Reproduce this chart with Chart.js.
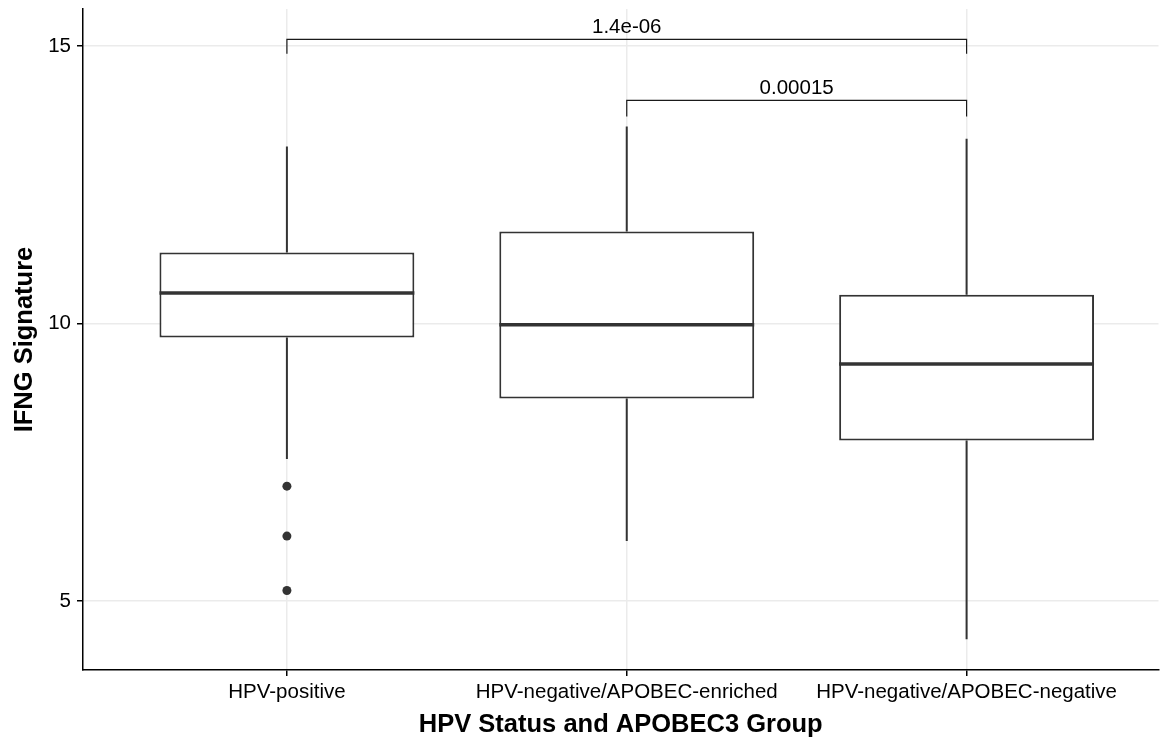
<!DOCTYPE html>
<html>
<head>
<meta charset="utf-8">
<script src="https://cdn.jsdelivr.net/npm/chart.js@4.4.1/dist/chart.umd.min.js"></script>
<style>
  html, body { margin: 0; padding: 0; background: #ffffff; }
  #wrap { width: 1163px; height: 738px; }
</style>
</head>
<body>
<div id="wrap"><canvas id="c" width="1163" height="738"></canvas></div>
<script>
// ---- data ----
const categories = ['HPV-positive', 'HPV-negative/APOBEC-enriched', 'HPV-negative/APOBEC-negative'];
const whiskerLow  = [7.56, 6.08, 4.31];
const q1          = [9.75, 8.65, 7.89];
const median      = [10.55, 9.98, 9.27];
const q3          = [11.28, 11.66, 10.52];
const whiskerHigh = [13.19, 13.55, 13.33];
const outlierGroup  = [1, 1, 1];
const outlierValues = [7.07, 6.17, 5.19];
const yTicks = [5, 10, 15];
const compFrom   = [1, 2];
const compTo     = [3, 3];
const compLabels = ['1.4e-06', '0.00015'];
const compY      = [15.12, 14.02];
const compTipY   = [14.86, 13.73];

// ---- styling ----
const BOX_HALF = 0.375;
const LINE = '#333333';
const FONT = '"Liberation Sans", Arial, sans-serif';

const datasets = [];
// whiskers
categories.forEach((c, i) => {
  const x = i + 1;
  datasets.push({ type: 'line', order: 3, data: [{x: x, y: q3[i]}, {x: x, y: whiskerHigh[i]}],
    borderColor: LINE, borderWidth: 2, pointRadius: 0, tension: 0, fill: false });
  datasets.push({ type: 'line', order: 3, data: [{x: x, y: q1[i]}, {x: x, y: whiskerLow[i]}],
    borderColor: LINE, borderWidth: 2, pointRadius: 0, tension: 0, fill: false });
});
// boxes
datasets.push({
  type: 'bar', order: 2,
  data: categories.map((c, i) => ({x: i + 1, y: [q1[i], q3[i]]})),
  backgroundColor: '#ffffff', borderColor: LINE, borderWidth: 2, borderSkipped: false,
  barPercentage: 0.75, categoryPercentage: 1.0
});
// medians
categories.forEach((c, i) => {
  const x = i + 1;
  datasets.push({ type: 'line', order: 1, data: [{x: x - BOX_HALF, y: median[i]}, {x: x + BOX_HALF, y: median[i]}],
    borderColor: LINE, borderWidth: 3.5, pointRadius: 0, tension: 0, fill: false, borderCapStyle: 'butt' });
});
// outliers
datasets.push({
  type: 'scatter', order: 0,
  data: outlierValues.map((v, i) => ({x: outlierGroup[i], y: v})),
  backgroundColor: LINE, borderWidth: 0, pointRadius: 4.5
});
// comparison brackets
compLabels.forEach((l, i) => {
  datasets.push({ type: 'line', order: 0,
    data: [{x: compFrom[i], y: compTipY[i]}, {x: compFrom[i], y: compY[i]}, {x: compTo[i], y: compY[i]}, {x: compTo[i], y: compTipY[i]}],
    borderColor: '#1a1a1a', borderWidth: 1.2, pointRadius: 0, tension: 0, fill: false });
});

const bracketLabels = {
  id: 'bracketLabels',
  afterDatasetsDraw(chart) {
    const ctx = chart.ctx;
    const xs = chart.scales.x, ys = chart.scales.y;
    ctx.save();
    ctx.fillStyle = '#000000';
    ctx.font = '20.5px ' + FONT;
    ctx.textAlign = 'center';
    ctx.textBaseline = 'alphabetic';
    compLabels.forEach((l, i) => {
      const px = xs.getPixelForValue((compFrom[i] + compTo[i]) / 2);
      const py = ys.getPixelForValue(compY[i]) - 6;
      ctx.fillText(l, px, py);
    });
    ctx.restore();
  }
};

new Chart(document.getElementById('c'), {
  data: { datasets: datasets },
  options: {
    responsive: false,
    animation: false,
    layout: { padding: { top: 9, left: 0, right: 0, bottom: 0 } },
    plugins: { legend: { display: false }, tooltip: { enabled: false } },
    scales: {
      x: {
        type: 'linear', min: 0.4, max: 3.5647, offset: false,
        afterBuildTicks: (s) => { s.ticks = categories.map((c, i) => ({value: i + 1})); },
        afterFit: (s) => { s.height = 68; s.paddingLeft = 0; s.paddingRight = 0; },
        ticks: {
          callback: (v) => categories[Math.round(v) - 1] || '',
          color: '#000000', padding: 4, maxRotation: 0, autoSkip: false,
          font: { family: FONT, size: 20.5 }
        },
        grid: { offset: false, color: '#ebebeb', lineWidth: 1.5, tickLength: 6, tickColor: '#000000', tickWidth: 1.5 },
        border: { display: true, color: '#000000', width: 1.5 },
        title: { display: true, text: 'HPV Status and APOBEC3 Group', color: '#000000',
          font: { family: FONT, size: 25.5, weight: 'bold' },
          padding: { top: 0, bottom: -2 } }
      },
      y: {
        type: 'linear', min: 3.757, max: 15.667,
        afterBuildTicks: (s) => { s.ticks = yTicks.map(v => ({value: v})); },
        afterFit: (s) => { s.width = 83; s.paddingTop = 0; s.paddingBottom = 0; },
        ticks: {
          color: '#000000', padding: 6,
          font: { family: FONT, size: 20.5 }
        },
        grid: { color: '#ebebeb', lineWidth: 1.5, tickLength: 6, tickColor: '#000000', tickWidth: 1.5 },
        border: { display: true, color: '#000000', width: 1.5 },
        title: { display: true, text: 'IFNG Signature', color: '#000000',
          font: { family: FONT, size: 25.5, weight: 'bold' },
          padding: { top: 10, bottom: 0 } }
      }
    }
  },
  plugins: [bracketLabels]
});
</script>
</body>
</html>
